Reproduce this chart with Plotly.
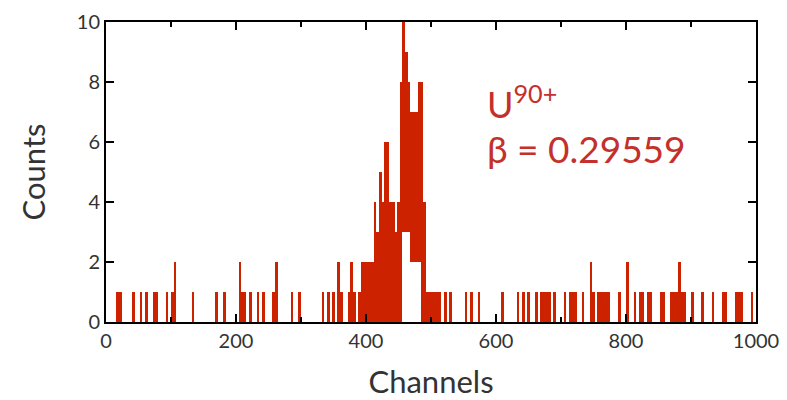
import plotly.graph_objects as go

# Histogram of counts per channel (4-channel bins), keyed by bin start channel.
bin_width = 4
bin_starts = [
    16, 20, 40, 52, 60, 72, 76, 92, 100, 104, 132, 168, 180, 204, 208, 212, 220,
    232, 240, 256, 260, 284, 296, 332, 340, 348, 356, 360, 372, 376, 380, 388,
    392, 396, 400, 404, 408, 412, 416, 420, 424, 428, 432, 436, 440, 444, 448,
    452, 456, 460, 464, 468, 472, 476, 480, 484, 488, 492, 496, 500, 504, 508,
    512, 520, 528, 552, 560, 572, 608, 632, 640, 648, 660, 668, 672, 676, 680,
    688, 704, 712, 716, 720, 732, 744, 748, 756, 760, 764, 768, 772, 788, 800,
    812, 820, 824, 832, 836, 852, 856, 868, 872, 876, 880, 884, 888, 900, 916,
    932, 948, 952, 968, 972, 976, 992,
]
counts = [
    1, 1, 1, 1, 1, 1, 1, 1, 1, 2, 1, 1, 1, 2, 1, 1, 1,
    1, 1, 1, 2, 1, 1, 1, 1, 1, 2, 1, 1, 2, 1, 1,
    2, 2, 2, 2, 2, 4, 3, 5, 4, 6, 6, 4, 4, 3, 4,
    8, 10, 9, 8, 7, 7, 7, 8, 8, 4, 1, 1, 1, 1, 1,
    1, 1, 1, 1, 1, 1, 1, 1, 1, 1, 1, 1, 1, 1, 1,
    1, 1, 1, 1, 1, 1, 2, 1, 1, 1, 1, 1, 1, 1, 2,
    1, 1, 1, 1, 1, 1, 1, 1, 1, 1, 2, 1, 1, 1, 1,
    1, 1, 1, 1, 1, 1, 1,
]
# Lower edge of each bar (non-zero where the peak bins are hollow underneath)
bar_floor = {456: 3, 460: 3, 464: 3, 468: 2, 472: 2, 476: 2, 480: 2}

x_ticks = [0, 200, 400, 600, 800, 1000]
y_ticks = [0, 2, 4, 6, 8, 10]

bar_red = "#cc2200"
label_red = "#c4302b"
text_grey = "#333333"
font_family = "Lato, 'Open Sans', sans-serif"

centers = [b + bin_width / 2 for b in bin_starts]
bases = [bar_floor.get(b, 0) for b in bin_starts]
heights = [c - f for c, f in zip(counts, bases)]

fig = go.Figure(
    go.Bar(
        x=centers,
        y=heights,
        base=bases,
        width=bin_width,
        marker=dict(color=bar_red, line=dict(width=0)),
        hoverinfo="skip",
    )
)

axis_common = dict(
    showline=True,
    linecolor="black",
    linewidth=2,
    mirror="ticks",
    ticks="inside",
    ticklen=8,
    tickwidth=2,
    tickcolor="black",
    showgrid=False,
    zeroline=False,
    automargin=False,
    tickfont=dict(family=font_family, size=20, color=text_grey),
)

fig.update_layout(
    width=787,
    height=400,
    margin=dict(l=106, r=31, t=22, b=78),
    paper_bgcolor="white",
    plot_bgcolor="white",
    showlegend=False,
    bargap=0,
    xaxis=dict(
        range=[0, 1000],
        tickvals=x_ticks,
        ticktext=[str(v) for v in x_ticks],
        minor=dict(ticks="inside", ticklen=5, tickwidth=2, tickcolor="black", dtick=100),
        title=dict(text="Channels", font=dict(family=font_family, size=31, color=text_grey), standoff=20),
        **axis_common,
    ),
    yaxis=dict(
        range=[0, 10],
        tickvals=y_ticks,
        ticktext=[str(v) for v in y_ticks],
        title=dict(text="Counts", font=dict(family=font_family, size=31, color=text_grey), standoff=22),
        **axis_common,
    ),
    annotations=[
        dict(
            x=583, y=7.35, xref="x", yref="y", xanchor="left", yanchor="middle",
            text="U<sup>90+</sup>", showarrow=False,
            font=dict(family=font_family, size=36, color=label_red),
        ),
        dict(
            x=583, y=5.8, xref="x", yref="y", xanchor="left", yanchor="middle",
            text="β = 0.29559", showarrow=False,
            font=dict(family=font_family, size=37, color=label_red),
        ),
    ],
)

fig.write_html("out.html")
